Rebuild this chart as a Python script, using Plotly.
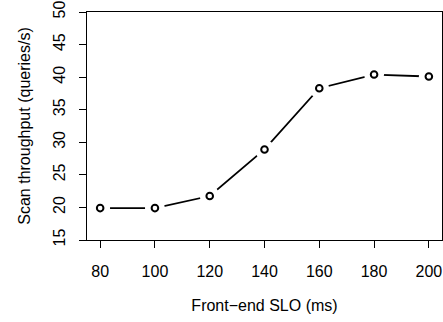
import plotly.graph_objects as go

slo_ms = [80, 100, 120, 140, 160, 180, 200]
throughput = [19.9, 19.9, 21.75, 28.9, 38.3, 40.4, 40.1]
x_ticks = [80, 100, 120, 140, 160, 180, 200]
y_ticks = [15, 20, 25, 30, 35, 40, 45, 50]

FONT = "Liberation Sans, Arial, Helvetica, sans-serif"

fig = go.Figure()
fig.add_trace(go.Scatter(x=slo_ms, y=throughput, mode="lines",
                         line=dict(color="black", width=1.8), hoverinfo="skip"))
# white halo around points to create the gap between line and circles (R type="b")
fig.add_trace(go.Scatter(x=slo_ms, y=throughput, mode="markers",
                         marker=dict(size=20, color="white", line=dict(width=0)), hoverinfo="skip"))
fig.add_trace(go.Scatter(x=slo_ms, y=throughput, mode="markers",
                         marker=dict(size=6.6, color="white", symbol="circle",
                                     line=dict(color="black", width=2))))

fig.update_layout(
    width=443, height=322,
    margin=dict(l=87, r=1, t=12, b=82),
    paper_bgcolor="white", plot_bgcolor="white",
    showlegend=False,
    font=dict(family=FONT, size=16, color="black"),
)
fig.update_xaxes(
    range=[75.2, 204.8], tickvals=x_ticks, ticktext=[str(v) for v in x_ticks],
    showgrid=False, zeroline=False, showline=True, mirror=True,
    linecolor="black", linewidth=1, ticks="outside", ticklen=7, tickcolor="black",
    ticklabelstandoff=10,
    title=dict(text="Front\u2212end SLO (ms)", standoff=20, font=dict(size=16)),
)
fig.update_yaxes(
    range=[15, 50], tickvals=y_ticks, ticktext=[str(v) for v in y_ticks],
    showgrid=False, zeroline=False, showline=True, mirror=True,
    linecolor="black", linewidth=1, ticks="outside", ticklen=7, tickcolor="black",
    tickangle=-90, ticklabelstandoff=8,
    title=dict(text="Scan throughput (queries/s)", standoff=15, font=dict(size=16)),
)

fig.write_html("out.html")
